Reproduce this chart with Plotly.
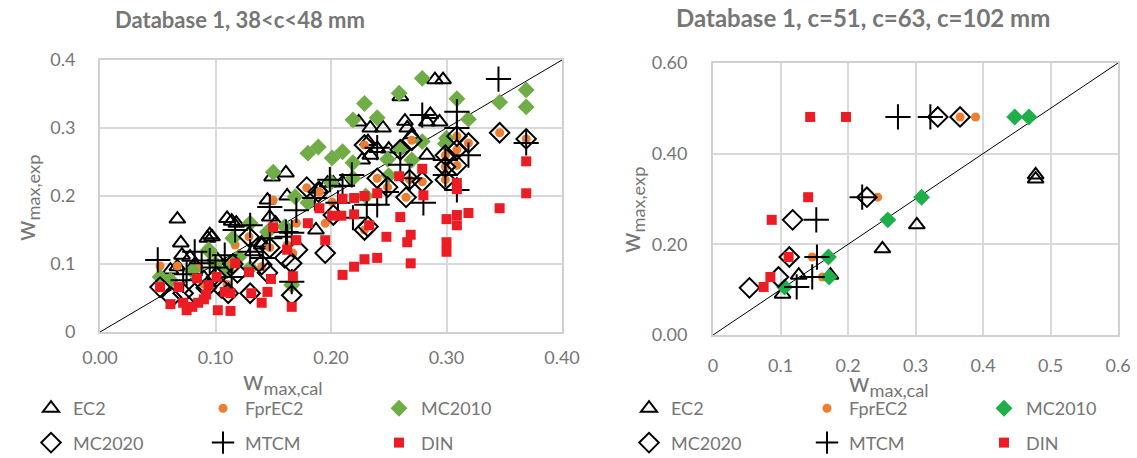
import plotly.graph_objects as go

W, H = 1137, 458

# ---------------- Left panel data: Database 1, 38<c<48 mm ----------------
L_EC2 = [(0.067,0.166),(0.070,0.131),(0.095,0.143),(0.093,0.138),(0.071,0.113),(0.067,0.096),
         (0.061,0.091),(0.082,0.099),(0.078,0.110),(0.090,0.080),(0.110,0.167),(0.114,0.163),
         (0.118,0.160),(0.097,0.140),(0.140,0.131),(0.145,0.194),(0.147,0.169),(0.149,0.228),
         (0.161,0.234),(0.187,0.150),(0.197,0.219),(0.202,0.219),(0.224,0.309),(0.234,0.300),
         (0.245,0.300),(0.264,0.310),(0.266,0.300),(0.283,0.309),(0.286,0.320),(0.250,0.269),
         (0.283,0.260),(0.234,0.260),(0.232,0.280),(0.227,0.253),(0.260,0.346),(0.290,0.371),
         (0.297,0.371),(0.294,0.309),(0.210,0.220),(0.132,0.118),(0.140,0.128),(0.100,0.110),
         (0.152,0.160),(0.108,0.098),(0.240,0.270),(0.270,0.290),(0.190,0.210),(0.162,0.200)]
L_FprEC2 = [(0.052,0.097),(0.067,0.097),(0.085,0.094),(0.170,0.160),(0.117,0.128),(0.150,0.194),
            (0.179,0.212),(0.140,0.096),(0.190,0.206),(0.229,0.275),(0.270,0.282),(0.260,0.268),
            (0.240,0.226),(0.249,0.213),(0.268,0.224),(0.279,0.221),(0.265,0.198),(0.229,0.150),
            (0.309,0.288),(0.319,0.278),(0.309,0.268),(0.299,0.260),(0.299,0.243),(0.309,0.245),
            (0.369,0.284),(0.346,0.293),(0.299,0.224),(0.189,0.206),(0.129,0.140),(0.147,0.124),
            (0.195,0.160),(0.201,0.191),(0.162,0.128),(0.167,0.116),(0.166,0.069),(0.113,0.100),
            (0.090,0.070),(0.110,0.070)]
L_MC2010 = [(0.052,0.081),(0.061,0.076),(0.094,0.121),(0.080,0.090),(0.100,0.100),(0.115,0.138),
            (0.130,0.160),(0.145,0.147),(0.160,0.155),(0.095,0.118),(0.130,0.094),(0.166,0.069),
            (0.150,0.235),(0.169,0.199),(0.180,0.263),(0.189,0.272),(0.201,0.256),(0.210,0.265),
            (0.219,0.312),(0.229,0.336),(0.240,0.315),(0.259,0.351),(0.279,0.373),(0.249,0.254),
            (0.270,0.253),(0.279,0.280),(0.260,0.270),(0.219,0.249),(0.219,0.226),(0.309,0.343),
            (0.346,0.338),(0.369,0.356),(0.369,0.331),(0.319,0.313),(0.300,0.285),(0.299,0.277),
            (0.200,0.220),(0.230,0.200),(0.120,0.110),(0.110,0.090),(0.180,0.190),(0.250,0.230)]
L_MC2020 = [(0.052,0.066),(0.062,0.051),(0.072,0.057),(0.082,0.057),(0.101,0.081),(0.111,0.057),
            (0.119,0.087),(0.130,0.057),(0.145,0.087),(0.160,0.109),(0.166,0.101),(0.166,0.054),
            (0.171,0.121),(0.195,0.116),(0.202,0.172),(0.129,0.140),(0.147,0.124),(0.140,0.099),
            (0.179,0.213),(0.189,0.206),(0.229,0.275),(0.270,0.282),(0.260,0.268),(0.240,0.226),
            (0.249,0.213),(0.268,0.224),(0.279,0.221),(0.265,0.198),(0.229,0.150),(0.346,0.293),
            (0.309,0.288),(0.319,0.278),(0.309,0.268),(0.299,0.260),(0.299,0.243),(0.309,0.245),
            (0.369,0.284),(0.299,0.224),(0.092,0.065),(0.105,0.065),(0.115,0.100),(0.232,0.155)]
L_MTCM = [(0.050,0.106),(0.072,0.076),(0.088,0.101),(0.082,0.118),(0.095,0.105),(0.108,0.113),
          (0.114,0.081),(0.117,0.150),(0.130,0.157),(0.130,0.118),(0.141,0.109),(0.147,0.184),
          (0.147,0.138),(0.162,0.140),(0.166,0.074),(0.170,0.179),(0.186,0.197),(0.199,0.224),
          (0.206,0.190),(0.218,0.231),(0.219,0.168),(0.231,0.187),(0.240,0.187),(0.240,0.271),
          (0.248,0.206),(0.260,0.246),(0.268,0.226),(0.279,0.319),(0.280,0.190),(0.309,0.324),
          (0.309,0.300),(0.319,0.260),(0.299,0.253),(0.299,0.231),(0.309,0.209),(0.345,0.372),
          (0.369,0.278),(0.100,0.095),(0.075,0.085),(0.161,0.147),(0.166,0.146),(0.210,0.215)]
L_DIN = [(0.052,0.066),(0.068,0.066),(0.084,0.079),(0.094,0.069),(0.061,0.041),(0.072,0.043),
         (0.075,0.032),(0.085,0.043),(0.090,0.048),(0.092,0.055),(0.080,0.037),(0.101,0.081),
         (0.102,0.032),(0.108,0.059),(0.113,0.057),(0.113,0.031),(0.117,0.101),(0.129,0.088),
         (0.131,0.057),(0.140,0.043),(0.145,0.059),(0.148,0.078),(0.150,0.154),(0.162,0.121),
         (0.166,0.037),(0.167,0.082),(0.170,0.135),(0.180,0.160),(0.190,0.182),(0.195,0.135),
         (0.210,0.196),(0.220,0.197),(0.229,0.200),(0.240,0.204),(0.259,0.229),(0.279,0.240),
         (0.280,0.201),(0.201,0.171),(0.209,0.171),(0.220,0.173),(0.233,0.157),(0.260,0.169),
         (0.248,0.140),(0.269,0.143),(0.266,0.132),(0.229,0.107),(0.240,0.109),(0.220,0.096),
         (0.210,0.084),(0.269,0.101),(0.309,0.219),(0.309,0.210),(0.309,0.172),(0.319,0.175),
         (0.300,0.166),(0.309,0.157),(0.300,0.132),(0.300,0.118),(0.346,0.182),(0.369,0.251),
         (0.369,0.204)]

# ---------------- Right panel data: Database 1, c=51, c=63, c=102 mm ----------------
R_EC2 = [(0.127,0.132),(0.103,0.090),(0.174,0.132),(0.478,0.353),(0.478,0.344),(0.302,0.243),(0.251,0.190)]
R_FprEC2 = [(0.147,0.172),(0.162,0.128),(0.108,0.106),(0.366,0.481),(0.389,0.481),(0.244,0.304)]
R_MC2010 = [(0.171,0.172),(0.172,0.128),(0.106,0.106),(0.447,0.481),(0.468,0.481),(0.309,0.304),(0.259,0.254)]
R_MC2020 = [(0.118,0.254),(0.113,0.172),(0.097,0.128),(0.054,0.104),(0.228,0.304),(0.333,0.481),(0.366,0.481)]
R_MTCM = [(0.153,0.254),(0.154,0.172),(0.147,0.128),(0.124,0.106),(0.221,0.304),(0.274,0.481),(0.322,0.481)]
R_DIN = [(0.144,0.481),(0.197,0.481),(0.141,0.304),(0.087,0.254),(0.112,0.172),(0.085,0.128),(0.075,0.106)]

SERIES_NAMES = ["EC2", "FprEC2", "MC2010", "MC2020", "MTCM", "DIN"]
LEFT_TITLE = "Database 1, 38<c<48 mm"
RIGHT_TITLE = "Database 1, c=51, c=63, c=102 mm"
LEFT_Y_TICKS = [0, 0.1, 0.2, 0.3, 0.4]
LEFT_Y_LABELS = ["0", "0.1", "0.2", "0.3", "0.4"]
LEFT_X_TICKS = [0, 0.1, 0.2, 0.3, 0.4]
LEFT_X_LABELS = ["0.00", "0.10", "0.20", "0.30", "0.40"]
RIGHT_Y_TICKS = [0, 0.2, 0.4, 0.6]
RIGHT_Y_LABELS = ["0.00", "0.20", "0.40", "0.60"]
RIGHT_X_TICKS = [0, 0.1, 0.2, 0.3, 0.4, 0.5, 0.6]
RIGHT_X_LABELS = ["0", "0.1", "0.2", "0.3", "0.4", "0.5", "0.6"]

# ---------------- styles ----------------
FONT = "Lato"
GREY = "#767676"
ORANGE = "#ED7D31"
GREEN_L = "#70AD47"
GREEN_R = "#1EAF4B"
RED = "#EC1C24"

def style(name, side):
    if name == "EC2":
        return dict(symbol="triangle-up-open", size=14, color="black", line=dict(color="black", width=2))
    if name == "FprEC2":
        return dict(symbol="circle", size=9, color=ORANGE, line=dict(width=0))
    if name == "MC2010":
        return dict(symbol="diamond", size=13, color=GREEN_L if side == "L" else GREEN_R, line=dict(width=0))
    if name == "MC2020":
        return dict(symbol="diamond-open", size=15, color="black", line=dict(color="black", width=2))
    if name == "MTCM":
        return dict(symbol="cross-thin-open", size=18, color="black", line=dict(color="black", width=2))
    return dict(symbol="square", size=10, color=RED, line=dict(width=0))

fig = go.Figure()

def px_x(x):
    return x / W

def px_y(y):
    return 1 - y / H

left_data = [L_EC2, L_FprEC2, L_MC2010, L_MC2020, L_MTCM, L_DIN]
right_data = [R_EC2, R_FprEC2, R_MC2010, R_MC2020, R_MTCM, R_DIN]

left_leg = ["legend", "legend2", "legend3", "legend", "legend2", "legend3"]
right_leg = ["legend4", "legend5", "legend6", "legend4", "legend5", "legend6"]

fig.add_trace(go.Scatter(x=[0, 0.4], y=[0, 0.4], mode="lines", line=dict(color="black", width=1),
                         showlegend=False, hoverinfo="skip", xaxis="x", yaxis="y"))
fig.add_trace(go.Scatter(x=[0, 0.6], y=[0, 0.6], mode="lines", line=dict(color="black", width=1),
                         showlegend=False, hoverinfo="skip", xaxis="x2", yaxis="y2"))

for i, name in enumerate(SERIES_NAMES):
    pts = left_data[i]
    fig.add_trace(go.Scatter(x=[p[0] for p in pts], y=[p[1] for p in pts], mode="markers",
                             name=name, marker=style(name, "L"), xaxis="x", yaxis="y",
                             legend=left_leg[i], legendgroup="L" + name))
for i, name in enumerate(SERIES_NAMES):
    pts = right_data[i]
    fig.add_trace(go.Scatter(x=[p[0] for p in pts], y=[p[1] for p in pts], mode="markers",
                             name=name, marker=style(name, "R"), xaxis="x2", yaxis="y2",
                             legend=right_leg[i], legendgroup="R" + name))

axis_common = dict(showgrid=True, gridcolor="#D9D9D9", gridwidth=1.5, zeroline=False,
                   showline=True, linecolor="#D0D0D0", linewidth=2, mirror=True,
                   ticks="", tickfont=dict(family=FONT, size=18, color=GREY))

LBOX = (100, 562, 60, 332)
RBOX = (713, 1118, 63, 335)

fig.update_layout(
    width=W, height=H, margin=dict(l=0, r=0, t=0, b=0, autoexpand=False),
    paper_bgcolor="white", plot_bgcolor="white",
    font=dict(family=FONT, color=GREY),
    xaxis=dict(domain=[px_x(LBOX[0]), px_x(LBOX[1])], range=[0, 0.4], tickvals=LEFT_X_TICKS,
               ticktext=LEFT_X_LABELS, anchor="y", ticklabelstandoff=8, **axis_common),
    yaxis=dict(domain=[px_y(LBOX[3]), px_y(LBOX[2])], range=[0, 0.4], tickvals=LEFT_Y_TICKS,
               ticktext=LEFT_Y_LABELS, anchor="x", ticklabelstandoff=19, **axis_common),
    xaxis2=dict(domain=[px_x(RBOX[0]), px_x(RBOX[1])], range=[0, 0.6], tickvals=RIGHT_X_TICKS,
                ticktext=RIGHT_X_LABELS, anchor="y2", ticklabelstandoff=13, **axis_common),
    yaxis2=dict(domain=[px_y(RBOX[3]), px_y(RBOX[2])], range=[0, 0.6], tickvals=RIGHT_Y_TICKS,
                ticktext=RIGHT_Y_LABELS, anchor="x2", ticklabelstandoff=20, **axis_common),
)

leg_cols = {"legend": 47, "legend2": 219, "legend3": 395,
            "legend4": 645, "legend5": 823, "legend6": 1000}
for key, cx in leg_cols.items():
    fig.update_layout({key: dict(x=px_x(cx - 18), y=px_y(390), xanchor="left", yanchor="top",
                                 orientation="v", bgcolor="rgba(0,0,0,0)", borderwidth=0,
                                 font=dict(family=FONT, size=18, color=GREY), itemwidth=34,
                                 tracegroupgap=8, itemsizing="trace")})

def note(text, x, y, size, angle=0):
    return dict(text=text, x=px_x(x), y=px_y(y), xref="paper", yref="paper",
                xanchor="center", yanchor="middle", showarrow=False, textangle=angle,
                font=dict(family=FONT, size=size, color=GREY))

ann = [
    note("<b>" + LEFT_TITLE.replace("<", "&lt;") + "</b>", 240, 19, 22),
    note("<b>" + RIGHT_TITLE + "</b>", 863, 18, 24),
    note("w<sub>max,exp</sub>", 26, 198, 26, -90),
    note("w<sub>max,exp</sub>", 631, 210, 26, -90),
    note("w<sub>max,cal</sub>", 283, 381, 26),
    note("w<sub>max,cal</sub>", 889, 383, 26),
]
fig.update_layout(annotations=ann)

fig.write_html("out.html")
